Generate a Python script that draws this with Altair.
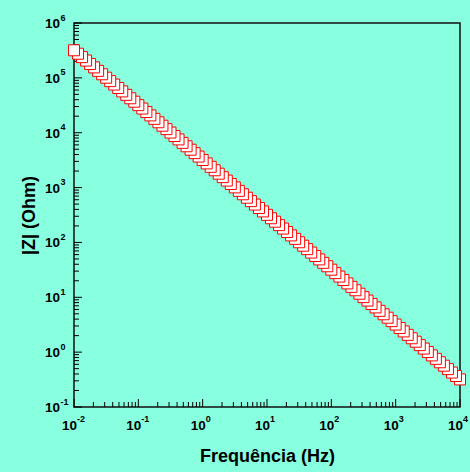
import altair as alt
import pandas as pd

# Frequency (Hz) and impedance modulus |Z| (Ohm)
freq = [
    1.000e-2, 1.155e-2, 1.334e-2, 1.540e-2, 1.778e-2, 2.054e-2, 2.371e-2, 2.738e-2,
    3.162e-2, 3.652e-2, 4.217e-2, 4.870e-2, 5.623e-2, 6.494e-2, 7.499e-2, 8.660e-2,
    1.000e-1, 1.155e-1, 1.334e-1, 1.540e-1, 1.778e-1, 2.054e-1, 2.371e-1, 2.738e-1,
    3.162e-1, 3.652e-1, 4.217e-1, 4.870e-1, 5.623e-1, 6.494e-1, 7.499e-1, 8.660e-1,
    1.000e0, 1.155e0, 1.334e0, 1.540e0, 1.778e0, 2.054e0, 2.371e0, 2.738e0,
    3.162e0, 3.652e0, 4.217e0, 4.870e0, 5.623e0, 6.494e0, 7.499e0, 8.660e0,
    1.000e1, 1.155e1, 1.334e1, 1.540e1, 1.778e1, 2.054e1, 2.371e1, 2.738e1,
    3.162e1, 3.652e1, 4.217e1, 4.870e1, 5.623e1, 6.494e1, 7.499e1, 8.660e1,
    1.000e2, 1.155e2, 1.334e2, 1.540e2, 1.778e2, 2.054e2, 2.371e2, 2.738e2,
    3.162e2, 3.652e2, 4.217e2, 4.870e2, 5.623e2, 6.494e2, 7.499e2, 8.660e2,
    1.000e3, 1.155e3, 1.334e3, 1.540e3, 1.778e3, 2.054e3, 2.371e3, 2.738e3,
    3.162e3, 3.652e3, 4.217e3, 4.870e3, 5.623e3, 6.494e3, 7.499e3, 8.660e3,
    1.000e4,
]
zmod = [
    3.183e5, 2.756e5, 2.387e5, 2.067e5, 1.790e5, 1.550e5, 1.342e5, 1.162e5,
    1.007e5, 8.716e4, 7.548e4, 6.536e4, 5.660e4, 4.902e4, 4.245e4, 3.676e4,
    3.183e4, 2.756e4, 2.387e4, 2.067e4, 1.790e4, 1.550e4, 1.342e4, 1.162e4,
    1.007e4, 8.716e3, 7.548e3, 6.536e3, 5.660e3, 4.902e3, 4.245e3, 3.676e3,
    3.183e3, 2.756e3, 2.387e3, 2.067e3, 1.790e3, 1.550e3, 1.342e3, 1.162e3,
    1.007e3, 8.716e2, 7.548e2, 6.536e2, 5.660e2, 4.902e2, 4.245e2, 3.676e2,
    3.183e2, 2.756e2, 2.387e2, 2.067e2, 1.790e2, 1.550e2, 1.342e2, 1.162e2,
    1.007e2, 8.716e1, 7.548e1, 6.536e1, 5.660e1, 4.902e1, 4.245e1, 3.676e1,
    3.183e1, 2.756e1, 2.387e1, 2.067e1, 1.790e1, 1.550e1, 1.342e1, 1.162e1,
    1.007e1, 8.716e0, 7.548e0, 6.536e0, 5.660e0, 4.902e0, 4.245e0, 3.676e0,
    3.183e0, 2.756e0, 2.387e0, 2.067e0, 1.790e0, 1.550e0, 1.342e0, 1.162e0,
    1.007e0, 8.716e-1, 7.548e-1, 6.536e-1, 5.660e-1, 4.902e-1, 4.245e-1, 3.676e-1,
    3.183e-1,
]

x_exps = [-2, -1, 0, 1, 2, 3, 4]
y_exps = [-1, 0, 1, 2, 3, 4, 5, 6]
minor_mult = [2, 3, 4, 5, 6, 7, 8, 9]

W, H = 386, 384
BG = "#88FFDE"
FONT = "Liberation Sans"

# measured high -> low frequency, so the low-frequency points are drawn last
pts = pd.DataFrame({"f": freq, "z": zmod}).iloc[::-1].reset_index(drop=True)

xs = alt.Scale(type="log", domain=[1e-2, 1e4], nice=False)
ys = alt.Scale(type="log", domain=[1e-1, 1e6], nice=False)

xmaj = pd.DataFrame({"v": [10.0 ** e for e in x_exps], "e": [str(e) for e in x_exps]})
ymaj = pd.DataFrame({"v": [10.0 ** e for e in y_exps], "e": [str(e) for e in y_exps]})
xmin = pd.DataFrame({"v": [m * 10.0 ** e for e in x_exps[:-1] for m in minor_mult]})
ymin = pd.DataFrame({"v": [m * 10.0 ** e for e in y_exps[:-1] for m in minor_mult]})

x_axis = alt.Axis(
    labels=False, ticks=False, domain=False, grid=False,
    title="Frequência (Hz)", titleFont=FONT, titleFontSize=18, titleFontWeight="bold",
    titleColor="black", titleX=W / 2, titleY=54, titleBaseline="alphabetic",
)
y_axis = alt.Axis(
    labels=False, ticks=False, domain=False, grid=False,
    title="|Z| (Ohm)", titleFont=FONT, titleFontSize=18, titleFontWeight="bold",
    titleColor="black", titleX=-40, titleY=H / 2, titleAngle=270, titleBaseline="alphabetic",
)

X = lambda fld: alt.X(fld, scale=xs, axis=x_axis)
Y = lambda fld: alt.Y(fld, scale=ys, axis=y_axis)

# ticks (inward)
xt_major = alt.Chart(xmaj).mark_rule(color="black", strokeWidth=1).encode(
    x=X("v:Q"), y=alt.value(H), y2=alt.value(H - 8))
xt_minor = alt.Chart(xmin).mark_rule(color="black", strokeWidth=1).encode(
    x=X("v:Q"), y=alt.value(H), y2=alt.value(H - 5))
yt_major = alt.Chart(ymaj).mark_rule(color="black", strokeWidth=1).encode(
    y=Y("v:Q"), x=alt.value(0), x2=alt.value(8))
yt_minor = alt.Chart(ymin).mark_rule(color="black", strokeWidth=1).encode(
    y=Y("v:Q"), x=alt.value(0), x2=alt.value(5))

# tick labels: 10 with superscript exponent
xl_base = alt.Chart(xmaj).mark_text(
    text="10", font=FONT, fontSize=13.5, fontWeight="bold", color="black",
    align="right", baseline="alphabetic", dx=3).encode(
    x=X("v:Q"), y=alt.value(H + 22.5))
xl_exp = alt.Chart(xmaj).mark_text(
    font=FONT, fontSize=9, fontWeight="bold", color="black",
    align="left", baseline="alphabetic", dx=3).encode(
    x=X("v:Q"), y=alt.value(H + 14.5), text="e:N")
yl_base = alt.Chart(ymaj).mark_text(
    text="10", font=FONT, fontSize=13.5, fontWeight="bold", color="black",
    align="right", baseline="alphabetic", dy=5).encode(
    y=Y("v:Q"), x=alt.value(-14))
yl_exp = alt.Chart(ymaj).mark_text(
    font=FONT, fontSize=9, fontWeight="bold", color="black",
    align="left", baseline="alphabetic", dy=-2.5).encode(
    y=Y("v:Q"), x=alt.value(-13.5), text="e:N")

points = alt.Chart(pts).mark_point(
    shape="square", size=121, filled=True, fill="white", stroke="#FF0000",
    strokeWidth=1, opacity=1).encode(
    x=X("f:Q"),
    y=Y("z:Q"),
)

chart = alt.layer(
    xt_minor, xt_major, yt_minor, yt_major, xl_base, xl_exp, yl_base, yl_exp, points
).properties(
    width=W, height=H, background=BG,
    autosize=alt.AutoSizeParams(type="none"),
    padding={"left": 74, "top": 23, "right": 10, "bottom": 65},
).configure_view(stroke="#111111", strokeWidth=1.5, fill=BG)

chart.save("out.html", embed_options={"renderer": "svg", "actions": False})
